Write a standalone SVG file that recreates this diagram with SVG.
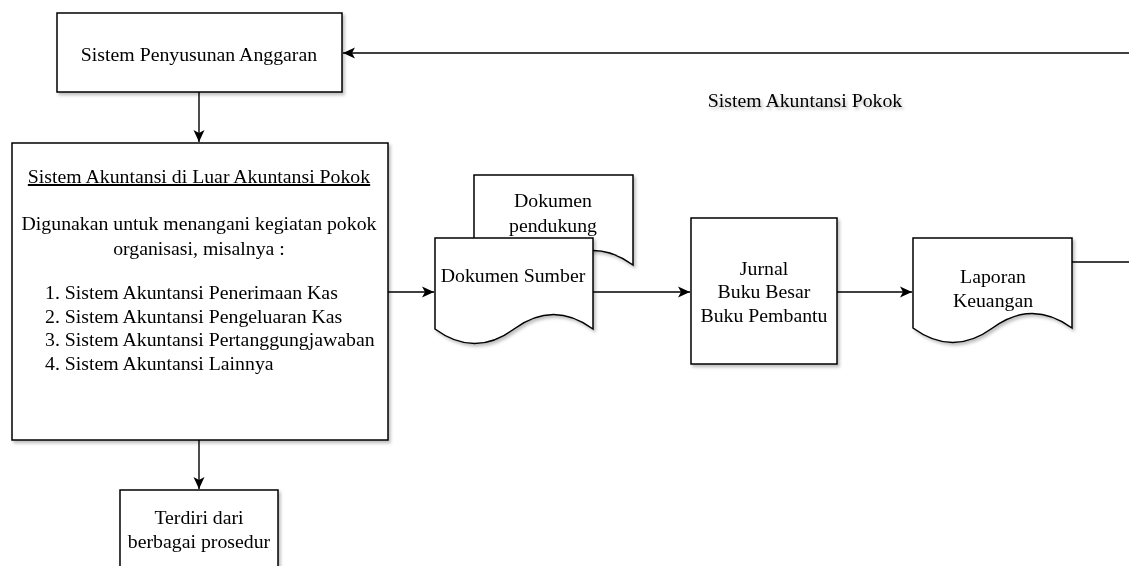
<svg xmlns="http://www.w3.org/2000/svg" width="1129" height="566" viewBox="0 0 1129 566">
<style>
.shape{fill:#fff;stroke:#000;stroke-width:1.5}
.t{font-family:"Liberation Serif","Times New Roman",serif;font-size:19.8px;fill:#000}
.c{text-anchor:middle}
.edge{fill:none;stroke:#000;stroke-width:1.4}
</style>
<defs>
<filter id="sh" x="-10%" y="-10%" width="130%" height="130%">
<feDropShadow dx="2" dy="2.5" stdDeviation="1.6" flood-color="#000" flood-opacity="0.25"/>
</filter>
<marker id="arr" markerUnits="userSpaceOnUse" markerWidth="14" markerHeight="12" refX="12" refY="6" orient="auto">
<path d="M0,0.5 L12,6 L0,11.5 L3,6 Z" fill="#000"/>
</marker>
</defs>
<rect width="1129" height="566" fill="#fff"/>
<g id="connectors">
<line class="edge" x1="1129" y1="53" x2="343" y2="53" marker-end="url(#arr)"/>
<line class="edge" x1="199" y1="92" x2="199" y2="142" marker-end="url(#arr)"/>
<line class="edge" x1="388" y1="292" x2="434" y2="292" marker-end="url(#arr)"/>
<line class="edge" x1="593" y1="292" x2="690" y2="292" marker-end="url(#arr)"/>
<line class="edge" x1="837" y1="292" x2="912" y2="292" marker-end="url(#arr)"/>
<line class="edge" x1="1072" y1="262" x2="1129" y2="262"/>
<line class="edge" x1="199" y1="440" x2="199" y2="489" marker-end="url(#arr)"/>
</g>
<g id="label-pokok" filter="url(#sh)">
<text class="t c" x="805" y="107">Sistem Akuntansi Pokok</text>
</g>
<g id="anggaran" filter="url(#sh)">
<rect class="shape" x="57" y="13" width="285" height="79"/>
<text class="t c" x="199" y="61">Sistem Penyusunan Anggaran</text>
</g>
<g id="luar" filter="url(#sh)">
<rect class="shape" x="12" y="143" width="376" height="297"/>
<text class="t c" x="199" y="183" text-decoration="underline">Sistem Akuntansi di Luar Akuntansi Pokok</text>
<text class="t c" x="199" y="230">Digunakan untuk menangani kegiatan pokok</text>
<text class="t c" x="199" y="255">organisasi, misalnya :</text>
<text class="t" x="45" y="299">1. Sistem Akuntansi Penerimaan Kas</text>
<text class="t" x="45" y="323">2. Sistem Akuntansi Pengeluaran Kas</text>
<text class="t" x="45" y="346">3. Sistem Akuntansi Pertanggungjawaban</text>
<text class="t" x="45" y="370">4. Sistem Akuntansi Lainnya</text>
</g>
<g id="prosedur" filter="url(#sh)">
<rect class="shape" x="120" y="490" width="158" height="100"/>
<text class="t c" x="199" y="524">Terdiri dari</text>
<text class="t c" x="199" y="548">berbagai prosedur</text>
</g>
<g id="pendukung" filter="url(#sh)">
<path class="shape" d="M474,175 H633 V265 Q593.25,236 553.5,265 Q513.75,294 474,265 Z"/>
<text class="t c" x="553" y="207">Dokumen</text>
<text class="t c" x="553" y="232">pendukung</text>
</g>
<g id="sumber" filter="url(#sh)">
<path class="shape" d="M435,238 H593 V329 Q553.5,300 514,329 Q474.5,358 435,329 Z"/>
<text class="t c" x="513" y="282">Dokumen Sumber</text>
</g>
<g id="jurnal" filter="url(#sh)">
<rect class="shape" x="691" y="218" width="146" height="146"/>
<text class="t c" x="764" y="275">Jurnal</text>
<text class="t c" x="764" y="298">Buku Besar</text>
<text class="t c" x="764" y="322">Buku Pembantu</text>
</g>
<g id="laporan" filter="url(#sh)">
<path class="shape" d="M913,238 H1072 V328 Q1032.25,299 992.5,328 Q952.75,357 913,328 Z"/>
<text class="t c" x="993" y="283">Laporan</text>
<text class="t c" x="993" y="307">Keuangan</text>
</g>
</svg>
